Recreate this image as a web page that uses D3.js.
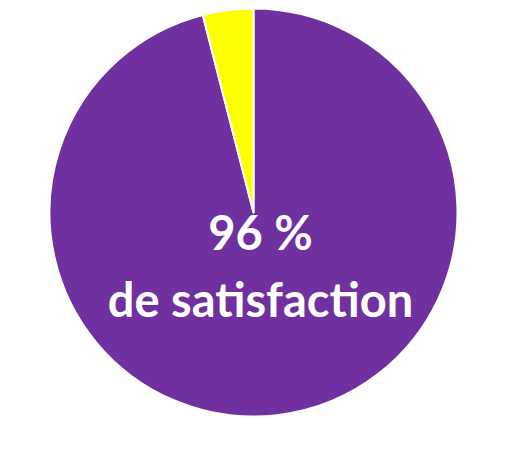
<!DOCTYPE html>
<html>
<head>
<meta charset="utf-8">
<script src="https://cdn.jsdelivr.net/npm/d3@7"></script>
<style>
  body { margin: 0; background: #fff; }
</style>
</head>
<body>
<div id="chart"></div>
<script>
// chart values
const labels = ["Satisfaits", "Non satisfaits"];
const values = [96, 4];
const colors = ["#7030A0", "#FFFF00"];
const caption = ["96 %", "de satisfaction"];

const width = 526, height = 456;
const cx = 253.5, cy = 212.5, radius = 204;

const svg = d3.select("#chart").append("svg")
    .attr("width", width)
    .attr("height", height);

const g = svg.append("g")
    .attr("transform", "translate(" + cx + "," + cy + ")");

const pie = d3.pie().sort(null).value((d, i) => values[i]);
const arc = d3.arc().innerRadius(0).outerRadius(radius);

g.selectAll("path.slice")
    .data(pie(labels))
    .enter().append("path")
    .attr("class", "slice")
    .attr("d", arc)
    .attr("fill", (d, i) => colors[i])
    .attr("stroke", "#fff")
    .attr("stroke-width", 2)
    .attr("stroke-linejoin", "round");

// centered label
g.append("text")
    .attr("x", 7)
    .attr("y", 37.5)
    .attr("text-anchor", "middle")
    .attr("fill", "#fff")
    .style("font-family", "Lato, 'Open Sans', sans-serif")
    .style("font-weight", "bold")
    .style("font-size", "47px")
    .text(caption[0]);

g.append("text")
    .attr("x", 7)
    .attr("y", 104.5)
    .attr("text-anchor", "middle")
    .attr("fill", "#fff")
    .style("font-family", "Lato, 'Open Sans', sans-serif")
    .style("font-weight", "bold")
    .style("font-size", "47px")
    .text(caption[1]);
</script>
</body>
</html>
